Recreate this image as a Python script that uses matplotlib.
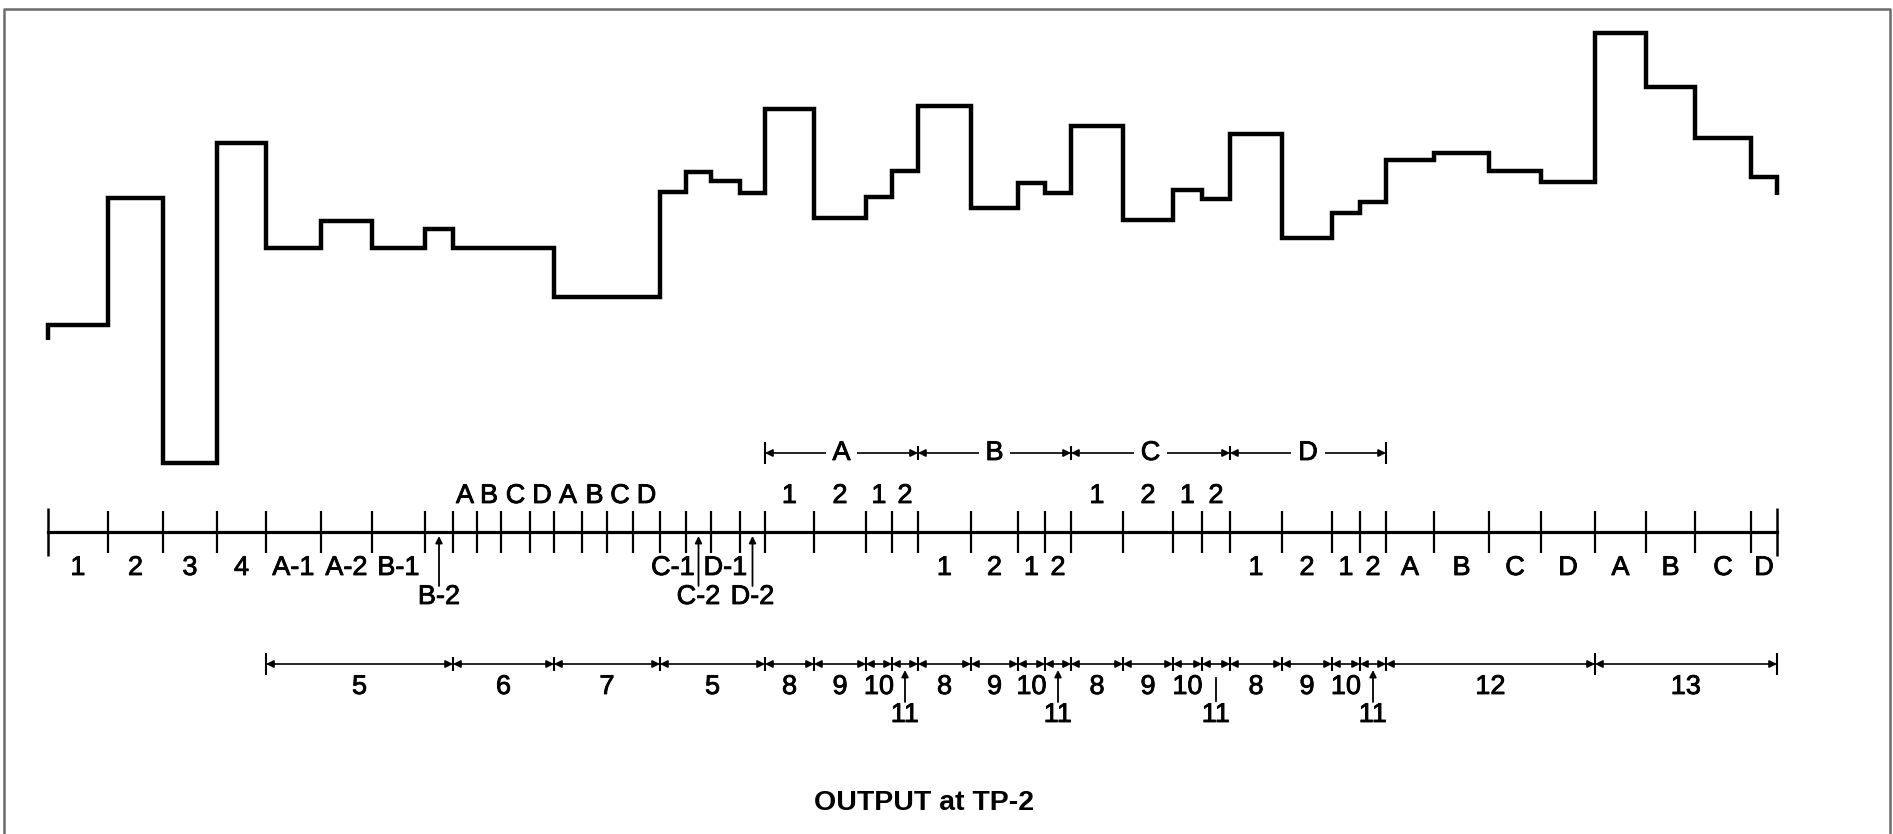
import numpy as np
import matplotlib
matplotlib.use('Agg')
import matplotlib.pyplot as plt
import matplotlib.patheffects as pe

plt.rcParams['font.family'] = ['Liberation Sans', 'DejaVu Sans']

# time marks along the scale line (diagram units, left to right)
edges = [48, 108, 163, 217, 266, 321, 372, 425, 453, 477, 501, 530, 554, 582, 607, 633,
         660, 686, 711, 740, 765, 814, 866, 892, 918, 971, 1018, 1045, 1071, 1123, 1173,
         1202, 1230, 1282, 1332, 1360, 1386, 1434, 1489, 1541, 1595, 1646, 1695, 1751, 1777]
# output level during each interval, measured above the scale line
levels = [207, 334, 69, 389, 284, 311, 284, 303, 284, 284, 284, 284, 235, 235, 235, 235,
          340, 360, 351, 339, 423, 314, 335, 361, 426, 324, 349, 339, 406, 312, 342,
          333, 398, 294, 319, 330, 372, 379, 361, 350, 499, 445, 394, 355]

# labels under the scale (interval index, text)
below_idx = [0, 1, 2, 3, 4, 5, 6, 16, 18, 24, 25, 26, 27, 32, 33, 34, 35,
             36, 37, 38, 39, 40, 41, 42, 43]
below_txt = ['1', '2', '3', '4', 'A-1', 'A-2', 'B-1', 'C-1', 'D-1', '1', '2', '1', '2',
             '1', '2', '1', '2', 'A', 'B', 'C', 'D', 'A', 'B', 'C', 'D']
# labels pointed to with an arrow (second row)
arrow_idx = [7, 17, 19]
arrow_txt = ['B-2', 'C-2', 'D-2']
# labels above the scale
above_idx = [8, 9, 10, 11, 12, 13, 14, 15, 20, 21, 22, 23, 28, 29, 30, 31]
above_txt = ['A', 'B', 'C', 'D', 'A', 'B', 'C', 'D', '1', '2', '1', '2', '1', '2', '1', '2']

# upper bracket row: A..D groups (edge indices)
group_edges = [20, 24, 28, 32, 36]
group_txt = ['A', 'B', 'C', 'D']

# lower bracket row: steps (edge indices)
step_edges = [4, 8, 12, 16, 20, 21, 22, 23, 24, 25, 26, 27, 28, 29, 30, 31,
              32, 33, 34, 35, 36, 40, 44]
step_txt = ['5', '6', '7', '5', '8', '9', '10', '11', '8', '9', '10', '11',
            '8', '9', '10', '11', '8', '9', '10', '11', '12', '13']

AXIS_Y = 302
FS = 19.5
bold = [pe.withStroke(linewidth=0.6, foreground='k')]

fig = plt.figure(figsize=(18.93, 8.34), dpi=100)
ax = fig.add_axes([0, 0, 1, 1])
ax.set_xlim(0, 1893)
ax.set_ylim(0, 834)
ax.axis('off')

# frame
ax.plot([4, 4, 1890, 1890], [0, 825, 825, 0], color='#6b6b6b', lw=1.8)

edges_a = np.array(edges, dtype=float)
lev = np.array(levels, dtype=float) + AXIS_Y
centers = (edges_a[:-1] + edges_a[1:]) / 2

# the output waveform
xs = np.repeat(edges_a, 2)
ys = np.concatenate([[lev[0] - 15], np.repeat(lev, 2), [lev[-1] - 18]])
ax.plot(xs, ys, color='k', lw=3.2, solid_joinstyle='miter', solid_capstyle='butt')

# scale line with ticks
ax.plot([edges_a[0], edges_a[-1]], [AXIS_Y, AXIS_Y], color='k', lw=2.3)
ax.vlines(edges_a[1:-1], AXIS_Y - 21, AXIS_Y + 21, color='k', lw=1.6)
ax.vlines([edges_a[0], edges_a[-1]], AXIS_Y - 24, AXIS_Y + 24, color='k', lw=1.8)


def label(x, y, t, **kw):
    ax.text(x, y, t, ha='center', va='center', fontsize=FS, path_effects=bold, **kw)


for i, t in zip(below_idx, below_txt):
    label(centers[i], AXIS_Y - 36, t)
for i, t in zip(above_idx, above_txt):
    label(centers[i], AXIS_Y + 36, t)
for i, t in zip(arrow_idx, arrow_txt):
    label(centers[i], AXIS_Y - 65, t)
    ax.annotate('', xy=(centers[i], AXIS_Y - 4), xytext=(centers[i], AXIS_Y - 54),
                arrowprops=dict(arrowstyle='-|>', color='k', lw=1.3,
                                mutation_scale=10, shrinkA=0, shrinkB=0))

# A..D groups above the scale
GY = 381
xg = edges_a[group_edges]
for k in range(len(xg) - 1):
    ax.annotate('', xy=(xg[k], GY), xytext=(xg[k + 1], GY),
                arrowprops=dict(arrowstyle='<|-|>', color='k', lw=1.2,
                                mutation_scale=11, shrinkA=0, shrinkB=0))
    label((xg[k] + xg[k + 1]) / 2, GY, group_txt[k],
          bbox=dict(boxstyle='square,pad=0.25', fc='white', ec='none'))
for k, x in enumerate(xg):
    h = 11 if k in (0, len(xg) - 1) else 7
    ax.vlines(x, GY - h, GY + h, color='k', lw=1.5)

# numbered steps under the scale
SY = 170
xe = edges_a[step_edges]
for k in range(len(xe) - 1):
    ax.annotate('', xy=(xe[k], SY), xytext=(xe[k + 1], SY),
                arrowprops=dict(arrowstyle='<|-|>', color='k', lw=1.2,
                                mutation_scale=11, shrinkA=0, shrinkB=0))
tall = [0, len(xe) - 2, len(xe) - 1]
for k, x in enumerate(xe):
    h = 11 if k in tall else 7
    ax.vlines(x, SY - h, SY + h, color='k', lw=1.5)
n11 = 0
for k, t in enumerate(step_txt):
    xm = (xe[k] + xe[k + 1]) / 2
    if t == '11':
        label(xm, SY - 51, t)
        if n11 == 2:
            ax.plot([xm, xm], [SY - 37, SY - 14], color='k', lw=1.3)
        else:
            ax.annotate('', xy=(xm, SY - 6), xytext=(xm, SY - 38),
                        arrowprops=dict(arrowstyle='-|>', color='k', lw=1.3,
                                        mutation_scale=10, shrinkA=0, shrinkB=0))
        n11 += 1
    else:
        label(xm, SY - 23, t)

ax.text(924, 31, 'OUTPUT at TP-2', ha='center', va='center', fontsize=20.5,
        fontweight='bold')

fig.savefig('out.png', dpi=100)
